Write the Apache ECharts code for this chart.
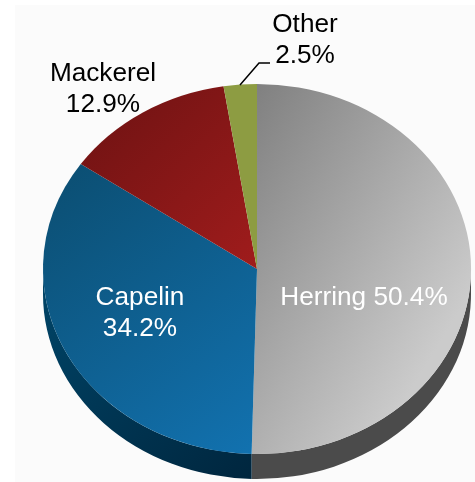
<!DOCTYPE html>
<html>
<head>
<meta charset="utf-8">
<script src="https://cdn.jsdelivr.net/npm/echarts@6/dist/echarts.min.js"></script>
<style>
html,body{margin:0;padding:0;background:#fff}
#container{width:475px;height:482px}
</style>
</head>
<body>
<div id="container"></div>
<script>
var names = ['Herring', 'Capelin', 'Mackerel', 'Other']
var shares = [50.4, 34.2, 12.9, 2.5]

// ellipse of the tilted pie
var cx = 257, cy = 269, rx = 214, ry = 185, depth = 25

// [top-left, bottom-right] of each slice, then its side wall
var topColors = [['#7f7f7f', '#cbcbcb'], ['#0b4d70', '#1272b0'], ['#6c1212', '#a01c1c'], ['#8d9c42', '#8d9c42']]
var sideColors = [['#4b4b4b', '#4b4b4b'], ['#004568', '#00263e'], ['#000', '#000'], ['#000', '#000']]
// gradient direction of the top face
var shade = [[1.15, 0.42], [1, 1], [1, 1], [1, 1]]
var labels = [
  {x: 364, y: 298, color: '#fff', sep: ' '},
  {x: 140, y: 313, color: '#fff', sep: '\n'},
  {x: 103, y: 89, color: '#000', sep: '\n'},
  {x: 305, y: 40, color: '#000', sep: '\n'}
]

function pt(deg, dy) {
  var a = deg * Math.PI / 180
  return (cx + rx * Math.sin(a)).toFixed(2) + ' ' + (cy - ry * Math.cos(a) + (dy || 0)).toFixed(2)
}

function startAngle(i) {
  var sum = 0
  for (var k = 0; k < i; k++) sum += shares[k]
  return sum * 3.6
}

function renderSlice(params, api) {
  var i = params.dataIndex
  var a = startAngle(i)
  var b = a + api.value(1) * 3.6
  var big = b - a > 180 ? 1 : 0
  var kids = []

  // side wall only shows on the lower half
  var s = Math.max(a, 90), e = Math.min(b, 270)
  if (e > s) {
    kids.push({
      type: 'path',
      shape: {pathData: 'M' + pt(s) + ' A' + rx + ' ' + ry + ' 0 0 1 ' + pt(e) + ' L' + pt(e, depth) +
        ' A' + rx + ' ' + ry + ' 0 0 0 ' + pt(s, depth) + ' Z'},
      style: {fill: new echarts.graphic.LinearGradient(0, 0, 1, 1, [
        {offset: 0, color: sideColors[i][0]}, {offset: 1, color: sideColors[i][1]}])}
    })
  }

  kids.push({
    type: 'path',
    z2: 5,
    shape: {pathData: 'M' + cx + ' ' + cy + ' L' + pt(a) + ' A' + rx + ' ' + ry + ' 0 ' + big + ' 1 ' + pt(b) + ' Z'},
    style: {fill: new echarts.graphic.LinearGradient(0, 0, shade[i][0], shade[i][1], [
      {offset: 0, color: topColors[i][0]}, {offset: 1, color: topColors[i][1]}])}
  })

  var l = labels[i]
  kids.push({
    type: 'text',
    z2: 10,
    x: l.x,
    y: l.y,
    style: {
      text: names[i] + l.sep + api.value(1).toFixed(1) + '%',
      fill: l.color,
      font: '26.2px "Liberation Sans", Arial, sans-serif',
      lineHeight: 31,
      align: 'center',
      verticalAlign: 'middle'
    }
  })

  // leader line for the thin slice
  if (names[i] == 'Other') {
    kids.push({
      type: 'polyline',
      z2: 10,
      shape: {points: [[240, 85], [259, 63], [270, 63]]},
      style: {stroke: '#000', lineWidth: 1.5, fill: null}
    })
  }
  return {type: 'group', children: kids}
}

var instance = echarts.init(document.getElementById('container'))
instance.setOption({
  animation: false,
  graphic: [{
    type: 'rect',
    z: -1,
    silent: true,
    shape: {x: 15, y: 5, width: 460, height: 477},
    style: {fill: '#fbfbfb'}
  }],
  series: [{
    type: 'custom',
    coordinateSystem: 'none',
    renderItem: renderSlice,
    data: names.map(function (n, i) { return [n, shares[i]] })
  }]
})
</script>
</body>
</html>
